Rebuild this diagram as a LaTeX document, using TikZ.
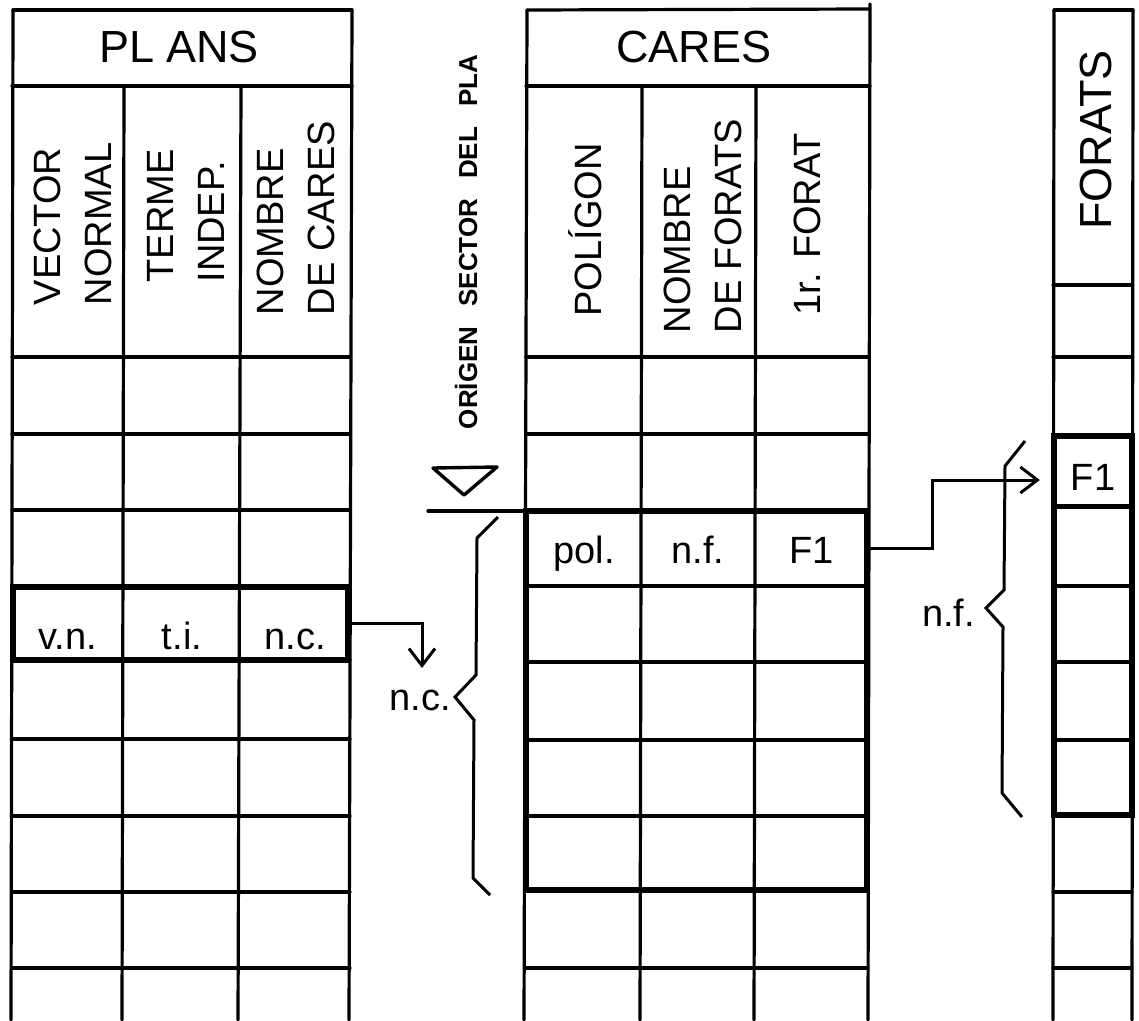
\documentclass[tikz,border=0pt]{standalone}
\usepackage{fontspec}
\setmainfont{Liberation Sans}
\usetikzlibrary{arrows.meta}

\begin{document}
\begin{tikzpicture}[x=1pt,y=-1pt,
  grid/.style={line width=3.2pt, line cap=round},
  heavy/.style={line width=6pt, line join=miter},
  title/.style={font=\fontsize{45}{50}\selectfont, inner sep=0pt},
  colhead/.style={font=\fontsize{38}{51}\selectfont, rotate=90, align=left, inner sep=0pt},
  cell/.style={font=\fontsize{38}{40}\selectfont, inner sep=0pt, text depth=0pt},
  brace/.style={line width=3pt, line join=miter},
  link/.style={line width=3pt, -{Straight Barb[length=17pt,width=26pt,line width=3pt]}},
  note/.style={font=\fontsize{38}{40}\selectfont, inner sep=0pt, anchor=base east},
  sector/.style={font={\bfseries\fontsize{26}{30}\selectfont\spaceskip=20pt\relax}, rotate=90, inner sep=0pt}]

\useasboundingbox (0,0) rectangle (1139,1020);

% ---------------- PLANS table ----------------
\draw[grid] (13,10) -- (352,10);
\draw[grid] (12,86) -- (352,86);
\draw[grid] (13,10) -- (11,1020);
\draw[grid] (352,10) -- (349,1020);
\draw[grid] (124,86) -- (122,1020);
\draw[grid] (241,86) -- (238,1020);
\foreach \y in {357,434,510,586,660,739,816,892,968}
  \draw[grid] (12,\y) -- (350,\y);
\draw[heavy] (13,587) rectangle (348,660);

\node[title] (plansT) at (179,47) {PL\kern12pt ANS};
\node[colhead] (plansA) at (73,224) {VECTOR\\NORMAL};
\node[colhead] (plansB) at (186,216) {TERME\\INDEP.};
\node[colhead] (plansC) at (296,218) {NOMBRE\\DE CARES};

\node[cell, minimum width=111pt, minimum height=73pt, text height=52pt] (vn) at (68,623) {v.n.};
\node[cell, minimum width=116pt, minimum height=73pt, text height=52pt] (ti) at (182,623) {t.i.};
\node[cell, minimum width=109pt, minimum height=73pt, text height=52pt] (nc) at (295,623) {n.c.};

% ---------------- plane sector origin ----------------
\node[sector] (origen) at (466,242) {ORİGEN SECTOR DEL PLA};
\draw[line width=3.4pt, line join=round] (433,468) -- (497,467) -- (464,495) -- cycle;
\coordinate (sectorL) at (428,511);
\draw[grid] (sectorL) -- (527,511);

% ---------------- CARES table ----------------
\draw[grid] (527,10) -- (870,9);
\draw[grid] (526,86) -- (870,86);
\draw[grid] (527,10) -- (524,1020);
\draw[grid] (870,4) -- (868,1020);
\draw[grid] (642,86) -- (640,1020);
\draw[grid] (756,86) -- (754,1020);
\foreach \y in {357,434,510,586,662,740,816,890,968}
  \draw[grid] (526,\y) -- (868,\y);
\draw[heavy] (526,511) rectangle (867,890);

\node[title] (caresT) at (694,47) {CARES};
\node[colhead] (caresA) at (585,230) {POLÍGON};
\node[colhead] (caresB) at (703,226) {NOMBRE\\DE FORATS};
\node[colhead] (caresC) at (807,224) {1r. FORAT};

\node[cell, minimum width=115pt, minimum height=75pt, text height=30pt] (pol) at (584,548) {pol.};
\node[cell, minimum width=114pt, minimum height=75pt, text height=30pt] (nf) at (698,548) {n.f.};
\node[cell, minimum width=113pt, minimum height=75pt, text height=30pt] (cf1) at (811.5,548) {F1};

% ---------------- FORATS table ----------------
\draw[grid] (1054,10) -- (1133,10);
\draw[grid] (1054,10) -- (1053,1020);
\draw[grid] (1133,10) -- (1132,1020);
\foreach \y in {285,357,435,507,586,662,740,815,892,968}
  \draw[grid] (1053,\y) -- (1132,\y);
\draw[heavy] (1054,436) rectangle (1132,815);
\draw[line width=5pt] (1054,506) -- (1132,506);

\node[title, rotate=90] (foratsT) at (1096,140) {FORATS};
\node[cell, minimum width=78pt, minimum height=70pt, text height=38pt] (ff1) at (1093,471) {F1};

% ---------------- braces and their counts ----------------
\draw[brace] (498,517) -- (477,538) -- (476,675) coordinate (ncTop)
  -- (455,697) coordinate (ncTip) -- (474,720) -- (473,878) -- (490,895);
\node[note] (ncLabel) at (451,710) {n.c.};

\draw[brace] (1025,441) -- (1005,466) -- (1004,590)
  -- (986,608) coordinate (nfTip) -- (1003,627) -- (1002,793) -- (1022,817);
\node[note] (nfLabel) at (975,626) {n.f.};

% ---------------- links ----------------
\coordinate (ncDrop) at (422,668);
\draw[link] (nc.east) -| (ncDrop);

\coordinate (fTurn) at (932,480);
\draw[link, shorten >=14pt] (cf1.east) -| (fTurn) -- (fTurn -| ff1.west);

\end{tikzpicture}
\end{document}
